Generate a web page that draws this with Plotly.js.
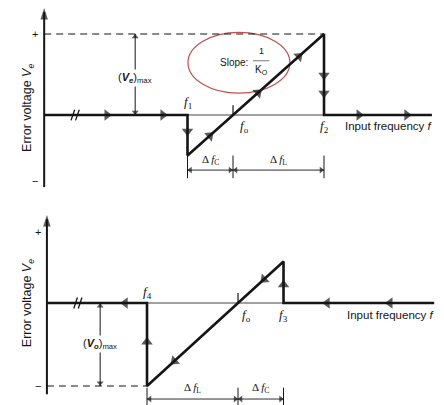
<!DOCTYPE html>
<html>
<head>
<meta charset="utf-8">
<script src="https://cdn.plot.ly/plotly-3.0.1.min.js"></script>
<style>
  html, body { margin: 0; padding: 0; background: #ffffff; }
  #chart { width: 444px; height: 405px; }
</style>
</head>
<body>
<div id="chart"></div>
<script>
// PLL error voltage vs input frequency.
// Frequency is measured in units of the capture half-range (ΔfL = 2, ΔfC = 1),
// voltage in units of (Ve)max.
const VMAX = 1;

// Upper diagram: input frequency rising (capture at f1, loss of lock at f2)
const upLabels = ['f1', 'fo', 'f2'];
const upFreqs = [4, 5, 7];
const upPathF = [0.85, 4, 4, 7, 7, 9.37];
const upPathV = [0, 0, -0.5, 1, 0, 0];
const upAxisF = [0.85, 9.37];
const upAxisV = [-0.89, 1.32];
const upFlowH = [2.23, 3.46, 7.77, 8.82];   // arrows along the frequency axis
const upDropF1 = [-0.2];                     // arrows on the f1 step
const upDropF2 = [0.49, 0.27];               // arrows on the f2 step
const upRampF = [4.49, 5.55, 6.45];          // arrows on the slope

// Lower diagram: input frequency falling (capture at f3, loss of lock at f4)
const dnLabels = ['f4', 'fo', 'f3'];
const dnFreqs = [3, 5, 6];
const dnPathF = [9.31, 6, 6, 3, 3, 0.8];
const dnPathV = [0, 0, 0.5, -1, 0, 0];
const dnAxisF = [0.8, 9.31];
const dnAxisV = [-1.1, 1.06];
const dnFlowH = [6.96, 8.34, 2.52];
const dnRiseF3 = [0.22];
const dnRiseF4 = [-0.47];
const dnRampF = [5.57, 3.6];

const INK = '#151515';
const SANS = 'Liberation Sans, Arial, sans-serif';
const SERIF = 'Liberation Serif, Times New Roman, serif';
const SLOPE = 0.5;   // V per frequency unit: (Ve)max over ΔfL

function fLabel(name) {
  return '<i>f</i><sub>' + name.slice(1) + '</sub>';
}

const traces = [];
const annotations = [];
const shapes = [];

function seg(xa, ya, xs, ys, width, color, dash) {
  traces.push({
    type: 'scatter', mode: 'lines', xaxis: xa, yaxis: ya,
    x: xs, y: ys, hoverinfo: 'skip',
    line: { color: color || INK, width: width, dash: dash || 'solid' }
  });
}
// Arrowheads: each head is a marker oriented from a hidden tail point to its tip.
function heads(xa, ya, list, size, symbol) {
  const xs = [], ys = [], sz = [];
  list.forEach(function (a) {
    xs.push(a.x - a.dx, a.x); ys.push(a.y - a.dy, a.y); sz.push(0, size);
  });
  traces.push({
    type: 'scatter', mode: 'markers', xaxis: xa, yaxis: ya,
    x: xs, y: ys, hoverinfo: 'skip',
    marker: { symbol: symbol || 'triangle-up', angleref: 'previous', size: sz, color: INK, line: { width: 0 } }
  });
}
function label(xa, ya, x, y, text, opts) {
  annotations.push(Object.assign({
    xref: xa, yref: ya, x: x, y: y, text: text, showarrow: false,
    font: { family: SANS, size: 11, color: INK }
  }, opts || {}));
}
function breakMark(xa, ya, f, dv) {
  [-0.05, 0.05].forEach(function (o) {
    seg(xa, ya, [f + o - 0.04, f + o + 0.04], [-dv, dv], 1.3);
  });
}

function panel(xa, ya, cfg) {
  const fo = cfg.freqs[1];
  const lo = Math.min(cfg.freqs[0], cfg.freqs[2]);
  const hi = Math.max(cfg.freqs[0], cfg.freqs[2]);
  const flow = [], small = [];
  const insetF = 0.06, insetV = 0.035;   // pull small heads back so their tips meet the ticks

  // frequency axis (thin) and voltage axis
  seg(xa, ya, cfg.axisF, [0, 0], 1.1, '#444');
  seg(xa, ya, [cfg.axisF[0], cfg.axisF[0]], [cfg.axisV[0], cfg.axisV[1] - 0.05], 2);
  heads(xa, ya, [{ x: cfg.axisF[0], y: cfg.axisV[1], dx: 0, dy: 0.2 }], 12, 'arrow');
  // dashed level of the extreme voltage
  seg(xa, ya, [cfg.axisF[0], cfg.dashTo], [cfg.dashV, cfg.dashV], 1.1, INK, '7px,5px');
  // operating path
  seg(xa, ya, cfg.pathF, cfg.pathV, 2.6);
  // fo tick and axis break
  seg(xa, ya, [fo, fo], [0, cfg.tick], 1.2);
  breakMark(xa, ya, cfg.breakF, cfg.tick * 0.55);

  // direction of travel
  cfg.flowH.forEach(function (f) { flow.push({ x: f, y: 0, dx: cfg.dir * 0.2, dy: 0 }); });
  cfg.steps.forEach(function (s) {
    s.v.forEach(function (v) { flow.push({ x: s.f, y: v, dx: 0, dy: s.dir * 0.12 }); });
  });
  cfg.ramp.forEach(function (f) {
    flow.push({ x: f, y: (f - fo) * SLOPE, dx: cfg.dir * 0.2, dy: cfg.dir * 0.2 * SLOPE });
  });
  heads(xa, ya, flow, 10);

  // labels on the frequency axis
  cfg.labels.forEach(function (name, i) {
    const below = cfg.labelBelow[i];
    label(xa, ya, cfg.freqs[i] + (name === 'fo' ? cfg.foShift : 0), below ? cfg.lblLow : cfg.lblHigh,
      fLabel(name), { font: { family: SERIF, size: 13, color: INK } });
  });
  label(xa, ya, cfg.inputF, cfg.lblLow, 'Input frequency <i>f</i>',
    { xanchor: 'left', font: { family: SANS, size: 11.5, color: INK } });

  // dimension lines ΔfC / ΔfL
  [lo, fo, hi].forEach(function (f) { seg(xa, ya, [f, f], cfg.dimTick, 1); });
  seg(xa, ya, [lo, hi], [cfg.dimV, cfg.dimV], 0.9);
  [[lo, fo], [fo, hi]].forEach(function (p) {
    small.push({ x: p[0] + insetF, y: cfg.dimV, dx: -0.1, dy: 0 });
    small.push({ x: p[1] - insetF, y: cfg.dimV, dx: 0.1, dy: 0 });
  });

  label(xa, ya, (lo + fo) / 2, cfg.dimLbl, cfg.dimTexts[0], { font: { family: SERIF, size: 11, color: INK } });
  label(xa, ya, (fo + hi) / 2, cfg.dimLbl, cfg.dimTexts[1], { font: { family: SERIF, size: 11, color: INK } });

  // (V)max span
  const sgn = Math.sign(cfg.dashV);
  seg(xa, ya, [cfg.spanF, cfg.spanF], [0, cfg.dashV], 1);
  small.push({ x: cfg.spanF, y: sgn * insetV, dx: 0, dy: -sgn * 0.1 });
  small.push({ x: cfg.spanF, y: cfg.dashV - sgn * insetV, dx: 0, dy: sgn * 0.1 });
  heads(xa, ya, small, 6);
  label(xa, ya, cfg.spanF, cfg.spanLbl, cfg.spanText,
    { bgcolor: '#ffffff', font: { family: SANS, size: 11, color: INK } });

  // sign marks and axis title
  label(xa, ya, cfg.signF, cfg.plusV, '+', { font: { family: SANS, size: 11, color: INK } });
  label(xa, ya, cfg.signF, cfg.minusV, '\u2212', { font: { family: SANS, size: 11, color: INK } });
  annotations.push({
    xref: 'paper', yref: ya, x: 0.041, y: cfg.titleV, textangle: -90, showarrow: false,
    text: 'Error voltage <i>V<sub>e</sub></i>',
    font: { family: SANS, size: 12.5, color: INK }
  });
}

panel('x', 'y', {
  freqs: upFreqs, labels: upLabels, labelBelow: [false, true, true],
  pathF: upPathF, pathV: upPathV, axisF: upAxisF, axisV: upAxisV,
  dashTo: 7, dashV: VMAX, tick: 0.12, breakF: 1.53, dir: 1,
  flowH: upFlowH,
  steps: [{ f: 4, v: upDropF1, dir: -1 }, { f: 7, v: upDropF2, dir: -1 }],
  ramp: upRampF, foShift: 0.26, lblHigh: 0.15, lblLow: -0.14, inputF: 7.42,
  dimTick: [-0.5, -0.78], dimV: -0.68, dimLbl: -0.56,
  dimTexts: ['\u0394 <i>f</i><sub>C</sub>', '\u0394 <i>f</i><sub>L</sub>'],
  spanF: 2.85, spanLbl: 0.46, spanText: '(<b><i>V<sub>e</sub></i></b>)<sub>max</sub>',
  signF: 0.65, plusV: 1.0, minusV: -0.81, titleV: 0.09
});

panel('x2', 'y2', {
  freqs: dnFreqs, labels: dnLabels, labelBelow: [false, true, true],
  pathF: dnPathF, pathV: dnPathV, axisF: dnAxisF, axisV: dnAxisV,
  dashTo: 3, dashV: -VMAX, tick: 0.12, breakF: 1.48, dir: -1,
  flowH: dnFlowH,
  steps: [{ f: 6, v: dnRiseF3, dir: 1 }, { f: 3, v: dnRiseF4, dir: 1 }],
  ramp: dnRampF, foShift: 0.18, lblHigh: 0.13, lblLow: -0.15, inputF: 7.36,
  dimTick: [-1.02, -1.23], dimV: -1.157, dimLbl: -1.02,
  dimTexts: ['\u0394 <i>f</i><sub>L</sub>', '\u0394 <i>f</i><sub>C</sub>'],
  spanF: 1.97, spanLbl: -0.5, spanText: '(<b><i>V<sub>o</sub></i></b>)<sub>max</sub>',
  signF: 0.6, plusV: 0.86, minusV: -1.0, titleV: 0.0
});

// Slope note in the upper diagram
shapes.push({
  type: 'circle', xref: 'x', yref: 'y', x0: 4.01, x1: 6.25, y0: 0.27, y1: 1.02,
  line: { color: '#c0504d', width: 1.2 }, layer: 'below'
});
label('x', 'y', 5.37, 0.65, 'Slope:', { xanchor: 'right', font: { family: SANS, size: 10, color: INK } });
label('x', 'y', 5.62, 0.79, '1', { font: { family: SANS, size: 9, color: INK } });
seg('x', 'y', [5.44, 5.8], [0.67, 0.67], 0.8, '#555');
label('x', 'y', 5.62, 0.55, 'K<sub>O</sub>', { font: { family: SANS, size: 10, color: INK } });

const layout = {
  width: 444, height: 405,
  margin: { l: 0, r: 0, t: 0, b: 0 },
  paper_bgcolor: '#ffffff', plot_bgcolor: '#ffffff',
  showlegend: false,
  xaxis: { domain: [0, 1], range: [-0.121, 9.637], visible: false, fixedrange: true },
  yaxis: { domain: [0.5062, 1], range: [-1.049, 1.420], visible: false, fixedrange: true },
  xaxis2: { domain: [0, 1], range: [-0.231, 9.527], visible: false, anchor: 'y2', fixedrange: true },
  yaxis2: { domain: [0, 0.5062], range: [-1.229, 1.241], visible: false, anchor: 'x2', fixedrange: true },
  annotations: annotations,
  shapes: shapes
};

Plotly.newPlot('chart', traces, layout, { displayModeBar: false, staticPlot: true });
</script>
</body>
</html>
